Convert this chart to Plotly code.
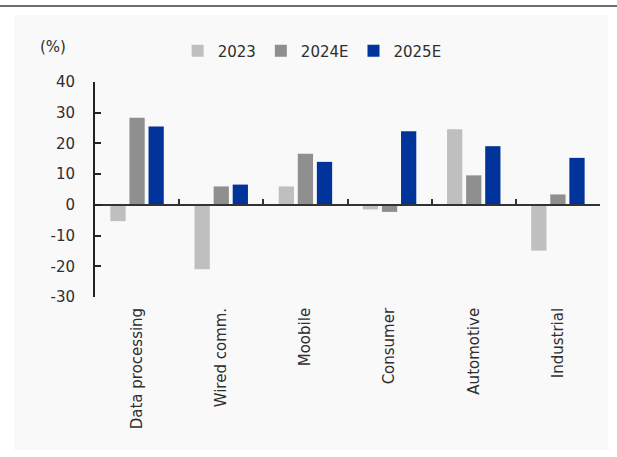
import plotly.graph_objects as go

# Growth by end market, % YoY
categories = ["Data processing", "Wired comm.", "Moobile", "Consumer", "Automotive", "Industrial"]
series_names = ["2023", "2024E", "2025E"]
values_2023 = [-5.3, -21.0, 6.0, -1.5, 24.6, -14.9]
values_2024e = [28.4, 6.0, 16.6, -2.3, 9.6, 3.4]
values_2025e = [25.5, 6.6, 14.0, 24.0, 19.1, 15.3]
series_colors = ["#BFBFBF", "#8F8F8F", "#00349A"]
y_tickvals = [40, 30, 20, 10, 0, -10, -20, -30]
y_ticktext = ["40", "30", "20", "10", "0", "-10", "-20", "-30"]

W, H = 617, 457
L, R, T, B = 95, 17, 82, 160
PW, PH = W - L - R, H - T - B


def px_x(x):
    return (x - L) / PW


def px_y(y):
    return (H - B - y) / PH


FONT = "DejaVu Sans"
TXT = "#2E2E2E"

fig = go.Figure()
for name, vals, col in zip(series_names, [values_2023, values_2024e, values_2025e], series_colors):
    fig.add_trace(go.Bar(name=name, x=categories, y=vals, marker=dict(color=col, line=dict(width=0))))

y_min, y_max = -30, 40
zero_pos = (0 - y_min) / (y_max - y_min)

fig.update_layout(
    width=W, height=H,
    margin=dict(l=L, r=R, t=T, b=B, pad=0),
    paper_bgcolor="white",
    plot_bgcolor="rgba(0,0,0,0)",
    barmode="group",
    bargap=0.32,
    bargroupgap=0.2,
    font=dict(family=FONT, size=15, color=TXT),
    showlegend=True,
    legend=dict(
        orientation="h", x=0.43, xanchor="center", y=px_y(51), yanchor="middle",
        bgcolor="rgba(0,0,0,0)", font=dict(family=FONT, size=15, color=TXT),
        itemwidth=30, traceorder="normal",
    ),
    xaxis=dict(
        type="category",
        anchor="free", position=zero_pos,
        showline=True, linecolor="#333333", linewidth=2,
        ticks="inside", tickson="boundaries", ticklen=5, tickwidth=2, tickcolor="#333333",
        showgrid=False, zeroline=False,
        tickangle=-90, ticklabelstandoff=96,
        tickfont=dict(family=FONT, size=15, color=TXT),
    ),
    yaxis=dict(
        range=[y_min, y_max],
        tickvals=y_tickvals, ticktext=y_ticktext,
        showline=True, linecolor="#222222", linewidth=2,
        ticks="inside", ticklen=6, tickwidth=2, tickcolor="#222222",
        showgrid=False, zeroline=False,
        ticklabelstandoff=15,
        tickfont=dict(family=FONT, size=15, color=TXT),
    ),
    shapes=[
        # light panel behind the chart
        dict(type="rect", xref="paper", yref="paper", layer="below",
             x0=px_x(14), x1=px_x(608), y0=px_y(450), y1=px_y(15),
             fillcolor="#F9F9F9", line=dict(width=0)),
        # rule across the top
        dict(type="line", xref="paper", yref="paper",
             x0=px_x(0), x1=px_x(617), y0=px_y(6), y1=px_y(6),
             line=dict(color="#6E6E6E", width=2)),
    ],
    annotations=[
        dict(text="(%)", xref="paper", yref="paper", x=px_x(53), y=px_y(47),
             xanchor="center", yanchor="middle", showarrow=False,
             font=dict(family=FONT, size=15, color=TXT)),
    ],
)

fig.write_html("out.html")
